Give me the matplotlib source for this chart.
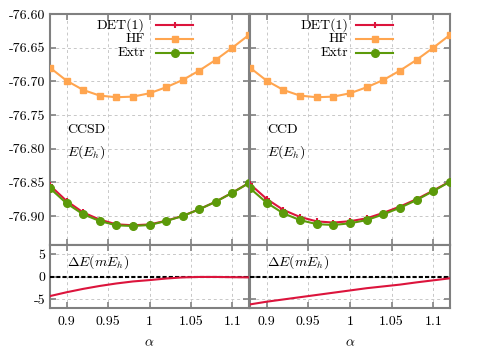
import matplotlib
matplotlib.use("Agg")
import matplotlib.pyplot as plt
from matplotlib.lines import Line2D

plt.rcParams['font.family'] = ['cmr10', 'DejaVu Serif']
plt.rcParams['mathtext.fontset'] = 'cm'
plt.rcParams['axes.unicode_minus'] = False
plt.rcParams['font.size'] = 10

alpha = [0.88, 0.90, 0.92, 0.94, 0.96, 0.98, 1.00, 1.02, 1.04, 1.06, 1.08, 1.10, 1.12]

hf = [-76.6797, -76.6990, -76.7128, -76.7212, -76.7236, -76.7227, -76.7177,
      -76.7088, -76.6980, -76.6840, -76.6680, -76.6500, -76.6310]

ccsd_extr = [-76.8588, -76.8811, -76.8974, -76.9074, -76.9138, -76.9148, -76.9133,
             -76.9074, -76.9000, -76.8900, -76.8787, -76.8654, -76.8510]
ccsd_det = [-76.8545, -76.8776, -76.8947, -76.9053, -76.9123, -76.9137, -76.9125,
            -76.9070, -76.8998, -76.8899, -76.8786, -76.8652, -76.8508]
ccsd_de = [-4.35, -3.5, -2.75, -2.1, -1.55, -1.1, -0.8, -0.45, -0.2, -0.1, -0.1, -0.15, -0.2]

ccd_extr = [-76.8588, -76.8802, -76.8960, -76.9060, -76.9120, -76.9133, -76.9108,
            -76.9060, -76.8975, -76.8877, -76.8762, -76.8629, -76.8490]
ccd_det = [-76.8526, -76.8746, -76.8909, -76.9014, -76.9079, -76.9097, -76.9077,
           -76.9034, -76.8953, -76.8859, -76.8749, -76.8621, -76.8486]
ccd_de = [-6.2, -5.6, -5.1, -4.6, -4.1, -3.6, -3.1, -2.6, -2.2, -1.8, -1.3, -0.85, -0.4]

panel_names = ["CCSD", "CCD"]
legend_labels = ["DET(1)", "HF", "Extr"]
xticks = [0.9, 0.95, 1.0, 1.05, 1.1]
xticklabels = ["0.9", "0.95", "1", "1.05", "1.1"]
yticks_top = [-76.60, -76.65, -76.70, -76.75, -76.80, -76.85, -76.90]
yticks_bot = [5, 0, -5]

RED = '#dc143c'
ORANGE = '#ffa54f'
GREEN = '#5c9a0a'
SPINE = '#808080'
GRID = '#c8c8c8'

fig = plt.figure(figsize=(5, 3.5), dpi=100)

lefts = [0.100, 0.500]
widths = [0.398, 0.400]
datasets = [(ccsd_det, ccsd_extr, ccsd_de), (ccd_det, ccd_extr, ccd_de)]

def style(ax):
    for s in ax.spines.values():
        s.set_color(SPINE)
        s.set_linewidth(1.5)
    ax.tick_params(direction='in', which='both', top=True, right=True,
                   color=SPINE, width=1.2, length=4, labelsize=10)
    ax.grid(True, color=GRID, linestyle=(0, (3, 3)), linewidth=0.7)
    ax.set_axisbelow(True)

for i in range(2):
    det, extr, de = datasets[i]
    ax = fig.add_axes([lefts[i], 0.30, widths[i], 0.66])
    axb = fig.add_axes([lefts[i], 0.12, widths[i], 0.18])
    style(ax)
    style(axb)

    ax.plot(alpha, hf, color=ORANGE, lw=1.5, marker='s', ms=4, zorder=3)
    ax.plot(alpha, det, color=RED, lw=1.5, marker='+', ms=5, mew=1.5, zorder=4)
    ax.plot(alpha, extr, color=GREEN, lw=1.5, marker='o', ms=5.5, zorder=5)

    ax.set_xlim(0.88, 1.12)
    ax.set_ylim(-76.943, -76.60)
    ax.set_xticks(xticks)
    ax.set_xticklabels([])
    ax.set_yticks(yticks_top)
    if i == 0:
        ax.set_yticklabels(["%.2f" % v for v in yticks_top])
    else:
        ax.set_yticklabels([])

    ax.text(0.085, 0.498, panel_names[i], transform=ax.transAxes,
            ha='left', va='center', fontsize=10)
    ax.text(0.085, 0.403, r'$E(E_h)$', transform=ax.transAxes,
            ha='left', va='center', fontsize=10)

    # legend (right-aligned labels, handles on the right)
    styles = [(RED, '+', 5), (ORANGE, 's', 4), (GREEN, 'o', 5.5)]
    ys = [0.952, 0.892, 0.832]
    tx = 0.477 if i == 0 else 0.49
    x0, x1 = (0.533, 0.719) if i == 0 else (0.53, 0.715)
    for lab, (c, m, ms), y in zip(legend_labels, styles, ys):
        ax.text(tx, y, lab, transform=ax.transAxes, ha='right', va='center', fontsize=10)
        ax.add_line(Line2D([x0, x1], [y, y], transform=ax.transAxes, color=c, lw=1.5))
        ax.add_line(Line2D([(x0 + x1) / 2], [y], transform=ax.transAxes, color=c,
                           marker=m, ms=ms, mew=1.5 if m == '+' else 1))

    axb.axhline(0, color='black', lw=1.5, linestyle=(0, (2, 1)), zorder=3)
    axb.plot(alpha, de, color=RED, lw=1.5, zorder=4)
    axb.set_xlim(0.88, 1.12)
    axb.set_ylim(-7, 7)
    axb.set_xticks(xticks)
    axb.set_xticklabels(xticklabels)
    axb.set_yticks(yticks_bot)
    if i == 0:
        axb.set_yticklabels([str(v) for v in yticks_bot])
    else:
        axb.set_yticklabels([])
    axb.tick_params(axis='x', pad=6)
    axb.text(0.085, 0.73, r'$\Delta E(mE_h)$', transform=axb.transAxes,
             ha='left', va='center', fontsize=10)
    axb.set_xlabel(r'$\alpha$', fontsize=10, labelpad=6)

fig.savefig('out.png', dpi=100)
